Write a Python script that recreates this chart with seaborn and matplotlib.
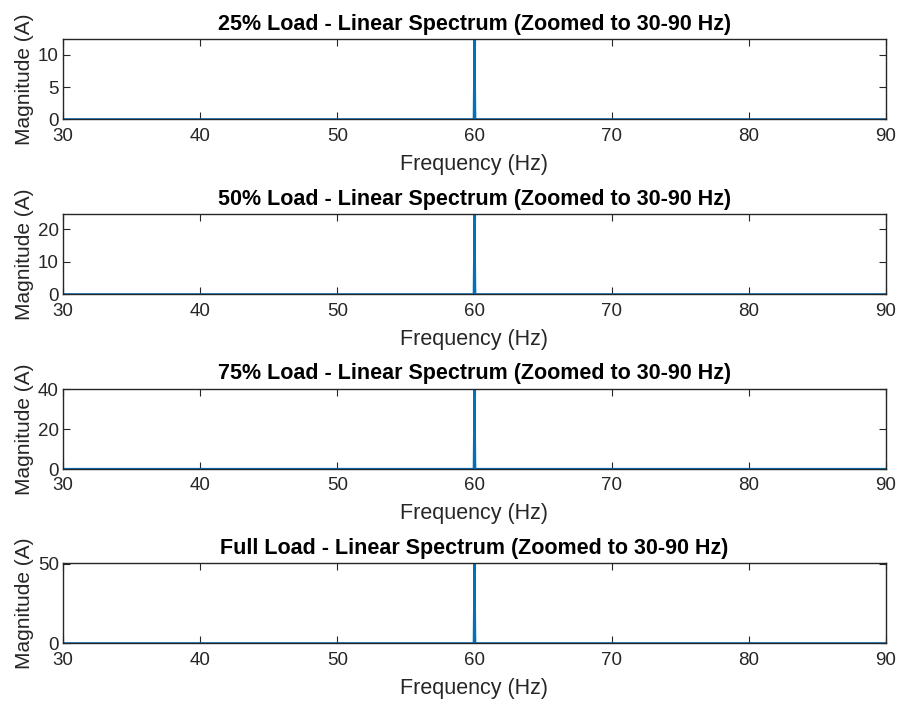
import matplotlib
matplotlib.use("Agg")
import matplotlib.pyplot as plt
import seaborn as sns
import pandas as pd

titles = ["25% Load - Linear Spectrum (Zoomed to 30-90 Hz)",
          "50% Load - Linear Spectrum (Zoomed to 30-90 Hz)",
          "75% Load - Linear Spectrum (Zoomed to 30-90 Hz)",
          "Full Load - Linear Spectrum (Zoomed to 30-90 Hz)"]
freq = [30.0, 59.95, 60.0, 60.05, 90.0]
mag_25 = [0.0, 0.0, 12.4, 0.0, 0.0]
mag_50 = [0.0, 0.0, 24.6, 0.0, 0.0]
mag_75 = [0.0, 0.0, 40.1, 0.0, 0.0]
mag_full = [0.0, 0.0, 50.2, 0.0, 0.0]
yticks_25 = [0, 5, 10]
yticks_50 = [0, 10, 20]
yticks_75 = [0, 20, 40]
yticks_full = [0, 50]
xticks = [30, 40, 50, 60, 70, 80, 90]

sns.set_theme(style="white")
plt.rcParams['font.family'] = ['Liberation Sans', 'DejaVu Sans']

W, H = 903, 707
fig = plt.figure(figsize=(W / 100, H / 100), dpi=100)

series = [mag_25, mag_50, mag_75, mag_full]
ytk = [yticks_25, yticks_50, yticks_75, yticks_full]
tops = [39.3, 214.3, 389.0, 563.3]
left, right = 63.0, 886.0
ah = 80.0
dark = "#262626"

for i in range(4):
    ax = fig.add_axes([left / W, 1 - (tops[i] + ah) / H, (right - left) / W, ah / H])
    df = pd.DataFrame({"Frequency (Hz)": freq, "Magnitude (A)": series[i]})
    sns.lineplot(data=df, x="Frequency (Hz)", y="Magnitude (A)", ax=ax,
                 color="#0072BD", linewidth=1.6)
    ax.set_xlim(30, 90)
    ax.set_ylim(0, max(series[i]))
    ax.set_xticks(xticks)
    ax.set_yticks(ytk[i])
    ax.tick_params(direction="in", length=5, width=0.8, colors=dark,
                   labelsize=13.5, top=True, right=True, bottom=True, left=True,
                   labelcolor=dark)
    ax.tick_params(axis="x", pad=6)
    ax.tick_params(axis="y", pad=3)
    for s in ax.spines.values():
        s.set_color(dark)
        s.set_linewidth(1.0)
        s.set_visible(True)
    ax.set_title(titles[i], fontsize=15.5, fontweight="bold", color="black", pad=7)
    ax.set_xlabel("Frequency (Hz)", fontsize=15.5, color=dark, labelpad=6.5)
    ax.set_ylabel("Magnitude (A)", fontsize=15, color=dark, labelpad=2.5)

fig.savefig("out.png", dpi=100, facecolor="white")
